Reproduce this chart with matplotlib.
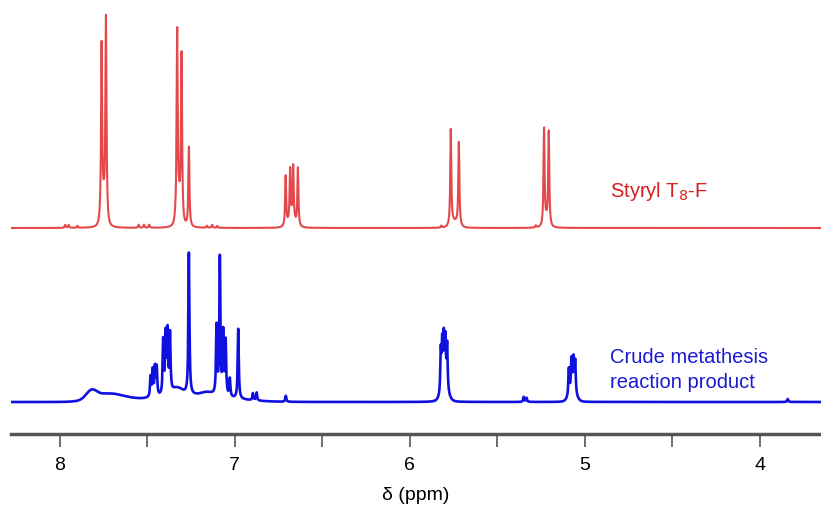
import numpy as np
import matplotlib
matplotlib.use("Agg")
import matplotlib.pyplot as plt

# peak lists: position (ppm) and height (px above baseline)
red_ppm = [7.762, 7.737, 7.330, 7.305, 7.263, 6.710, 6.684, 6.667, 6.640,
           5.766, 5.720, 5.233, 5.206,
           7.97, 7.95, 7.90, 7.55, 7.52, 7.49, 7.16, 7.13, 7.10, 5.82, 5.28]
red_height = [170, 198, 182, 163, 80, 50, 52, 55, 58, 96, 83, 96, 93,
              3, 3, 2, 3, 3, 3, 2, 3, 2, 2, 2]

# broad feet under the red multiplets (position, height, half width)
red_foot_ppm = [7.75, 7.32, 6.675, 5.743, 5.22]
red_foot_height = [22, 22, 6, 5, 6]
red_foot_width = [0.012, 0.012, 0.02, 0.02, 0.012]

blue_ppm = [7.482, 7.470, 7.457, 7.447, 7.410, 7.396, 7.385, 7.371, 7.263,
            7.105, 7.086, 7.067, 7.053, 7.029, 6.981, 6.897, 6.876, 6.709,
            5.823, 5.815, 5.806, 5.797, 5.787, 5.349, 5.333,
            5.091, 5.076, 5.065, 5.055, 3.840]
blue_height = [20, 26, 28, 28, 54, 58, 60, 58, 142,
               68, 137, 62, 54, 18, 70, 7, 8, 6,
               42, 46, 50, 48, 46, 5, 4,
               27, 32, 32, 32, 3]

# broad humps in the crude product (position, height, half width)
hump_ppm = [7.82, 7.72, 7.25, 7.33, 7.16, 5.80, 5.07]
hump_height = [8, 8, 7, 7, 3, 9, 9]
hump_width = [0.03, 0.09, 0.20, 0.03, 0.03, 0.02, 0.02]

red_offset = 206
blue_offset = 32


def spectrum(x, centers, heights, hw=0.0035):
    y = np.zeros_like(x)
    for c, h in zip(centers, heights):
        y += h * hw**2 / ((x - c)**2 + hw**2)
    return y


def humps(x, centers, heights, widths):
    y = np.zeros_like(x)
    for c, h, w in zip(centers, heights, widths):
        y += h * np.exp(-0.5 * ((x - c) / w)**2)
    return y


x = np.arange(3.6, 8.35, 0.0004)
red = spectrum(x, red_ppm, red_height) + humps(x, red_foot_ppm, red_foot_height, red_foot_width)
blue = spectrum(x, blue_ppm, blue_height) + humps(x, hump_ppm, hump_height, hump_width)

fig = plt.figure(figsize=(8.21, 5.10), dpi=100)
ax = fig.add_axes([11 / 821, 75 / 510, 810 / 821, 435 / 510])

ax.plot(x, red + red_offset, color="#e0282a", lw=1.5, alpha=0.85)
ax.plot(x, blue + blue_offset, color="#1010e0", lw=1.9)

ax.set_xlim(8.28, 3.65)
ax.set_ylim(0, 435)

for s in ["top", "right", "left"]:
    ax.spines[s].set_visible(False)
ax.spines["bottom"].set_color("#555555")
ax.spines["bottom"].set_linewidth(2.5)
ax.set_yticks([])
ax.set_xticks([8, 7, 6, 5, 4])
ax.set_xticks([7.5, 6.5, 5.5, 4.5], minor=True)
ax.tick_params(axis="x", which="both", direction="out", length=9, width=1.2,
               color="#555555", labelsize=14, pad=7)
for t in ax.get_xticklabels():
    t.set_fontfamily("Liberation Sans")
ax.set_xlabel("δ (ppm)", fontsize=14, family="Liberation Sans", labelpad=9)

ax.text(4.857, 243, "Styryl T$_8$-F", color="#d42020", fontsize=14.5,
        family="Liberation Sans", va="center")
ax.text(4.857, 77, "Crude metathesis", color="#1a1ad0", fontsize=14.5,
        family="Liberation Sans", va="center")
ax.text(4.857, 52, "reaction product", color="#1a1ad0", fontsize=14.5,
        family="Liberation Sans", va="center")

fig.savefig("out.png", dpi=100)
